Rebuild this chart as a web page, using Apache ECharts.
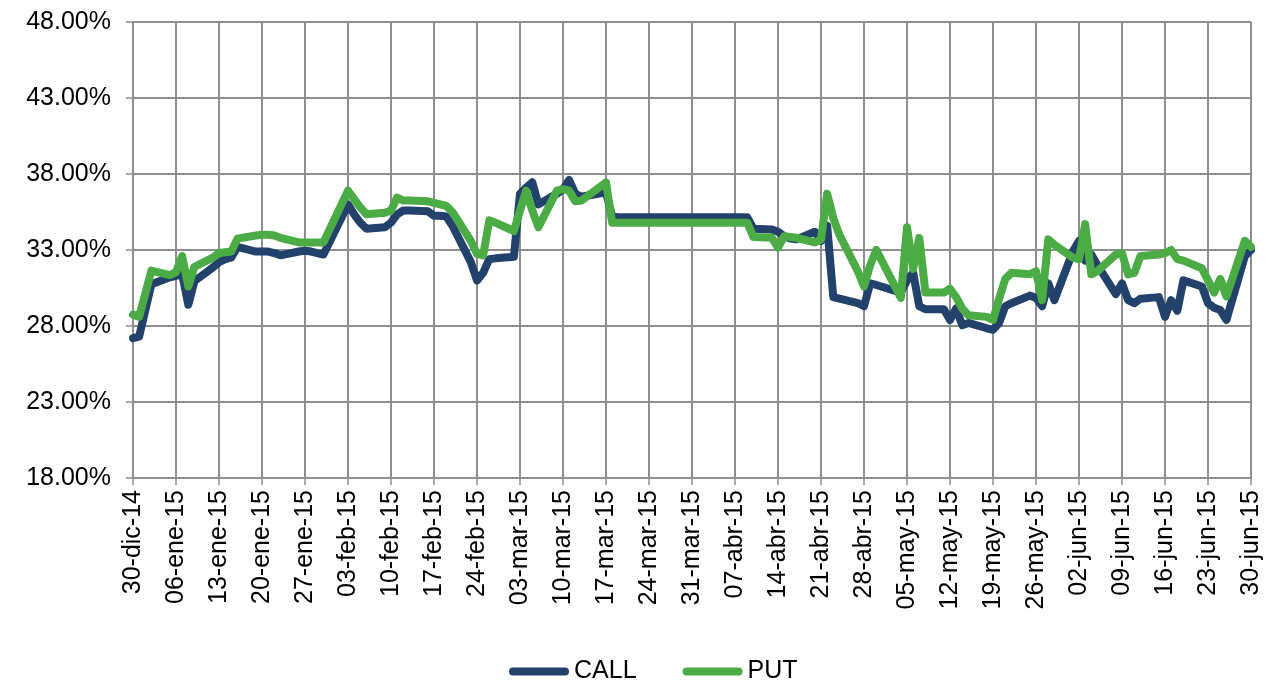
<!DOCTYPE html>
<html>
<head>
<meta charset="utf-8">
<script src="https://cdn.jsdelivr.net/npm/echarts@6/dist/echarts.min.js"></script>
<style>
  html, body { margin: 0; padding: 0; background: #fff; }
  #chart { width: 1281px; height: 692px; }
</style>
</head>
<body>
<div id="chart"></div>
<script>
// días hábiles con dato
const fechas = [
  "2014-12-30", "2014-12-31", "2015-01-02", "2015-01-05", "2015-01-06", "2015-01-07", "2015-01-08", "2015-01-09",
  "2015-01-12", "2015-01-13", "2015-01-14", "2015-01-15", "2015-01-16", "2015-01-19", "2015-01-20", "2015-01-21",
  "2015-01-22", "2015-01-23", "2015-01-26", "2015-01-27", "2015-01-28", "2015-01-29", "2015-01-30", "2015-02-03",
  "2015-02-04", "2015-02-05", "2015-02-06", "2015-02-09", "2015-02-10", "2015-02-11", "2015-02-12", "2015-02-13",
  "2015-02-16", "2015-02-17", "2015-02-18", "2015-02-19", "2015-02-20", "2015-02-23", "2015-02-24", "2015-02-25",
  "2015-02-26", "2015-02-27", "2015-03-02", "2015-03-03", "2015-03-04", "2015-03-05", "2015-03-06", "2015-03-09",
  "2015-03-10", "2015-03-11", "2015-03-12", "2015-03-13", "2015-03-17", "2015-03-18", "2015-03-19", "2015-03-20",
  "2015-03-23", "2015-03-24", "2015-03-25", "2015-03-26", "2015-03-27", "2015-03-30", "2015-03-31", "2015-04-01",
  "2015-04-06", "2015-04-07", "2015-04-08", "2015-04-09", "2015-04-10", "2015-04-13", "2015-04-14", "2015-04-15",
  "2015-04-16", "2015-04-17", "2015-04-20", "2015-04-21", "2015-04-22", "2015-04-23", "2015-04-24", "2015-04-27",
  "2015-04-28", "2015-04-29", "2015-04-30", "2015-05-04", "2015-05-05", "2015-05-06", "2015-05-07", "2015-05-08",
  "2015-05-11", "2015-05-12", "2015-05-13", "2015-05-14", "2015-05-15", "2015-05-18", "2015-05-19", "2015-05-20",
  "2015-05-21", "2015-05-22", "2015-05-25", "2015-05-26", "2015-05-27", "2015-05-28", "2015-05-29", "2015-06-01",
  "2015-06-02", "2015-06-03", "2015-06-04", "2015-06-05", "2015-06-08", "2015-06-09", "2015-06-10", "2015-06-11",
  "2015-06-12", "2015-06-15", "2015-06-16", "2015-06-17", "2015-06-18", "2015-06-19", "2015-06-22", "2015-06-23",
  "2015-06-24", "2015-06-25", "2015-06-26", "2015-06-29", "2015-06-30"
];

const call = [
  27.2, 27.3, 30.75, 31.2, 31.3, 31.4, 29.4, 30.95,
  31.85, 32.2, 32.4, 32.5, 33.2, 32.9, 32.9, 32.9,
  32.8, 32.65, 32.9, 32.95, 32.9, 32.8, 32.7, 36.0,
  35.35, 34.8, 34.4, 34.5, 34.8, 35.35, 35.6, 35.6,
  35.55, 35.25, 35.25, 35.2, 34.6, 32.2, 31.0, 31.5,
  32.4, 32.45, 32.55, 36.7, 37.1, 37.45, 36.0, 36.7,
  37.0, 37.6, 36.7, 36.5, 36.8, 35.2, 35.15, 35.15,
  35.15, 35.15, 35.15, 35.15, 35.15, 35.15, 35.15, 35.15,
  35.15, 35.15, 35.15, 35.15, 34.4, 34.35, 34.2, 33.9,
  33.75, 33.7, 34.2, 33.6, 34.6, 29.9, 29.8, 29.5,
  29.3, 30.8, 30.7, 30.2, 31.0, 31.5, 29.3, 29.1,
  29.1, 28.4, 29.15, 28.05, 28.2, 27.85, 27.75, 28.2,
  29.3, 29.5, 30.0, 29.85, 29.3, 30.8, 29.7, 32.9,
  33.6, 32.3, 32.7, 32.0, 30.1, 30.8, 29.7, 29.5,
  29.8, 29.9, 28.6, 29.7, 29.0, 31.0, 30.6, 29.5,
  29.2, 29.05, 28.4, 32.6, 33.0
];

const put = [
  28.75, 28.6, 31.65, 31.35, 31.55, 32.6, 30.6, 31.9,
  32.5, 32.8, 32.85, 32.9, 33.75, 33.95, 34.0, 34.0,
  33.95, 33.8, 33.5, 33.5, 33.5, 33.5, 33.5, 36.9,
  36.35, 35.8, 35.35, 35.45, 35.6, 36.45, 36.25, 36.25,
  36.2, 36.1, 36.0, 35.9, 35.5, 33.6, 32.75, 32.65,
  34.95, 34.8, 34.25, 35.6, 36.9, 35.6, 34.5, 36.9,
  37.0, 36.9, 36.2, 36.25, 37.45, 34.8, 34.8, 34.8,
  34.8, 34.8, 34.8, 34.8, 34.8, 34.8, 34.8, 34.8,
  34.8, 34.8, 34.8, 34.8, 33.85, 33.8, 33.15, 33.9,
  33.85, 33.8, 33.5, 33.7, 36.7, 35.1, 34.0, 31.6,
  30.6, 32.0, 33.0, 29.85, 34.5, 31.75, 33.8, 30.2,
  30.2, 30.45, 29.9, 29.15, 28.7, 28.6, 28.4, 29.8,
  31.1, 31.5, 31.4, 31.6, 29.7, 33.7, 33.35, 32.5,
  32.4, 34.7, 31.4, 31.6, 32.7, 32.8, 31.4, 31.5,
  32.6, 32.7, 32.8, 33.0, 32.4, 32.3, 31.8, 31.0,
  30.2, 31.1, 29.95, 33.6, 33.2
];

const meses = ["ene", "feb", "mar", "abr", "may", "jun", "jul", "ago", "sep", "oct", "nov", "dic"];

// eje de fechas: un punto por día natural
const dias = [];
const posicion = {};
for (let t = Date.UTC(2014, 11, 30); t <= Date.UTC(2015, 5, 30); t += 86400000) {
  const d = new Date(t);
  posicion[d.toISOString().slice(0, 10)] = dias.length;
  dias.push(
    String(d.getUTCDate()).padStart(2, "0") + "-" + meses[d.getUTCMonth()] + "-" +
    String(d.getUTCFullYear()).slice(2)
  );
}

function serie(valores) {
  const out = dias.map(() => null);
  fechas.forEach((f, i) => { out[posicion[f]] = valores[i]; });
  return out;
}

const gris = "#8e8e8e";
const chart = echarts.init(document.getElementById("chart"));

chart.setOption({
  backgroundColor: "#fff",
  animation: false,
  textStyle: { fontFamily: "Liberation Sans, Arial, sans-serif" },
  grid: { left: 133, right: 30, top: 22, bottom: 214 },
  legend: {
    left: 509,
    top: 659,
    padding: 0,
    itemGap: 46,
    itemWidth: 60,
    itemHeight: 9,
    icon: "path://M4,0 L56,0 A4,4 0 0 1 56,8 L4,8 A4,4 0 0 1 4,0 Z",
    textStyle: { fontSize: 25, color: "#000" },
    data: ["CALL", "PUT"]
  },
  xAxis: {
    type: "category",
    boundaryGap: false,
    data: dias,
    axisLine: { lineStyle: { color: gris, width: 1.5 } },
    axisTick: { show: true, interval: 6, length: 7, lineStyle: { color: gris, width: 1.5 } },
    axisLabel: { interval: 6, rotate: 90, fontSize: 25, color: "#000", margin: 12 },
    splitLine: { show: true, interval: 6, lineStyle: { color: gris, width: 2 } }
  },
  yAxis: {
    type: "value",
    min: 18,
    max: 48,
    interval: 5,
    axisLine: { show: true, lineStyle: { color: gris, width: 1.5 } },
    axisTick: { show: true, length: 7, lineStyle: { color: gris, width: 1.5 } },
    axisLabel: {
      fontSize: 25,
      color: "#000",
      margin: 22,
      formatter: (v) => v.toFixed(2) + "%"
    },
    splitLine: { lineStyle: { color: gris, width: 2 } }
  },
  series: [
    {
      name: "CALL",
      type: "line",
      data: serie(call),
      connectNulls: true,
      showSymbol: false,
      color: "#22416b",
      lineStyle: { width: 8, cap: "round", join: "round" }
    },
    {
      name: "PUT",
      type: "line",
      data: serie(put),
      connectNulls: true,
      showSymbol: false,
      color: "#4bab44",
      lineStyle: { width: 8, cap: "round", join: "round" }
    }
  ]
});
</script>
</body>
</html>
